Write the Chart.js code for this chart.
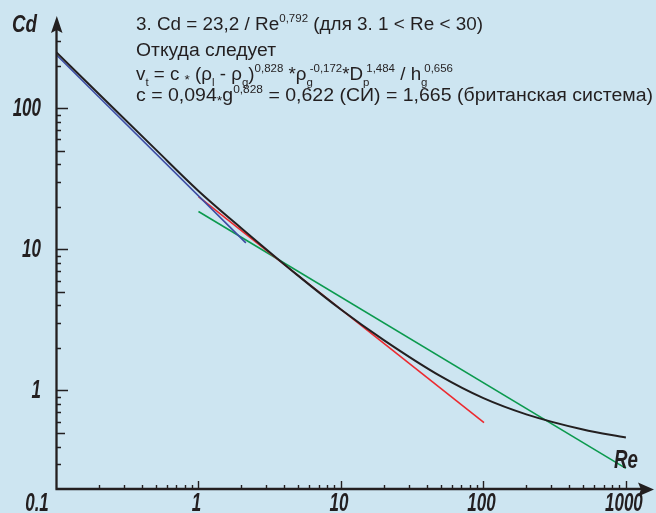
<!DOCTYPE html>
<html>
<head>
<meta charset="utf-8">
<script src="https://cdn.jsdelivr.net/npm/chart.js@4.4.1/dist/chart.umd.min.js"></script>
<style>
  html, body { margin: 0; padding: 0; background: #cde5f1; }
  canvas { display: block; }
</style>
</head>
<body>
<canvas id="dragChart" width="656" height="513"></canvas>
<script>
// drag curve (Re, Cd)
const reBlack = [0.1, 0.2, 0.5, 1, 2, 5, 10, 20, 50, 100, 200, 500, 1000];
const cdBlack = [250, 126, 51, 25.9, 14.1, 6.5, 3.74, 2.27, 1.26, 0.88, 0.676, 0.528, 0.463];
// Stokes line
const reBlue = [0.1, 2.15];
const cdBlue = [240, 11.1];
// Cd = 23,2 / Re^0,792
const reRed = [1, 101];
const cdRed = [23.6, 0.59];
// intermediate law
const reGreen = [1, 1000];
const cdGreen = [18.5, 0.28];

const xTickLabels = ['0.1', '1', '10', '100', '1000'];
const yTickLabels = ['1', '10', '100'];
const xAxisTitle = 'Re';
const yAxisTitle = 'Cd';

// text block: [text, kind]; 'subsup' = sub and sup stacked at the same x
const noteLines = [
  [['3. Cd = 23,2 / Re', ''], ['0,792', 'sup'], [' (для 3. 1 < Re < 30)', '']],
  [['Откуда следует', '']],
  [['v', ''], ['t', 'sub'], [' = c ', ''], ['*', 'star'], [' (ρ', ''], ['l', 'sub'], [' - ρ', ''], ['g', 'sub'], [')', ''],
   ['0,828', 'sup'], [' *ρ', ''], [['g', ' -0,172'], 'subsup'], ['*D', ''], [['p', ' 1,484'], 'subsup'],
   [' / h', ''], [['g', ' 0,656'], 'subsup']],
  [['c = 0,094', ''], ['*', 'star'], ['g', ''], ['0,828', 'sup'], [' = 0,622 (СИ) = 1,665 (британская система)', '']]
];
const noteLeft = 136;
const noteRight = [483, 276, 453, 653];
const noteBase = [30, 56, 80, 101];

function toPoints(xs, ys) {
  return xs.map((x, i) => ({x: x, y: ys[i]}));
}

const INK = '#231f20';
const FONT = '"Liberation Sans", Arial, sans-serif';

// draws one rich line, returns its width
function drawRich(ctx, x0, y, parts, size, dry) {
  let x = x0;
  const put = (t, f, dy) => {
    ctx.font = f + 'px ' + FONT;
    if (!dry) ctx.fillText(t, x, y + dy);
    return ctx.measureText(t).width;
  };
  for (const [t, kind] of parts) {
    if (kind === 'sup') x += put(t, 11, -8);
    else if (kind === 'sub') x += put(t, 11, 6);
    else if (kind === 'star') x += put(t, 13, 4);
    else if (kind === 'subsup') {
      const w1 = put(t[0], 11, 6);
      const w2 = put(t[1], 11, -8);
      x += Math.max(w1, w2);
    } else x += put(t, size, 0);
  }
  return x - x0;
}

function boldLabel(ctx, text, x, y, size, sx, align) {
  ctx.save();
  ctx.font = 'italic bold ' + size + 'px ' + FONT;
  const w = ctx.measureText(text).width * sx;
  let left = x;
  if (align === 'center') left = x - w / 2;
  if (align === 'right') left = x - w;
  ctx.translate(left, y);
  ctx.scale(sx, 1);
  ctx.textAlign = 'left';
  ctx.fillText(text, 0, 0);
  ctx.restore();
}

const axesPlugin = {
  id: 'axesPlugin',
  afterDatasetsDraw(chart) {
    const {ctx, chartArea: a, scales: {x, y}} = chart;
    ctx.save();
    ctx.strokeStyle = INK;
    ctx.fillStyle = INK;
    ctx.lineCap = 'butt';

    // axis lines
    ctx.lineWidth = 2.3;
    ctx.beginPath();
    ctx.moveTo(a.left + 0.5, a.bottom);
    ctx.lineTo(a.left + 0.5, a.top + 14);
    ctx.moveTo(a.left - 0.6, a.bottom);
    ctx.lineTo(a.right - 10, a.bottom);
    ctx.stroke();

    // arrow heads
    ctx.beginPath();
    ctx.moveTo(a.left + 0.8, a.top + 1);
    ctx.lineTo(a.left + 6.5, a.top + 18);
    ctx.lineTo(a.left + 0.8, a.top + 15);
    ctx.lineTo(a.left - 5, a.top + 18);
    ctx.closePath();
    ctx.fill();
    ctx.beginPath();
    ctx.moveTo(a.right + 1, a.bottom + 0.5);
    ctx.lineTo(a.right - 15, a.bottom - 6.5);
    ctx.lineTo(a.right - 12, a.bottom + 0.5);
    ctx.lineTo(a.right - 15, a.bottom + 7.5);
    ctx.closePath();
    ctx.fill();

    // y ticks
    ctx.lineWidth = 1.4;
    ctx.beginPath();
    [0.1, 1, 10, 100].forEach(d => {
      for (let m = 1; m <= 9; m++) {
        const v = m * d;
        if (v <= 0.2 || v > 350) continue;
        const py = Math.round(y.getPixelForValue(v)) + 0.5;
        const len = m === 1 ? 12 : (m === 5 ? 9 : 5);
        ctx.moveTo(a.left, py);
        ctx.lineTo(a.left + len, py);
      }
    });
    // x ticks
    [0.1, 1, 10, 100, 1000].forEach(d => {
      for (let m = 1; m <= 9; m++) {
        const v = m * d;
        if (v <= 0.1 || v > 1000) continue;
        const px = Math.round(x.getPixelForValue(v)) + 0.5;
        const len = m === 1 ? 8 : 4;
        ctx.moveTo(px, a.bottom);
        ctx.lineTo(px, a.bottom - len);
      }
    });
    ctx.stroke();

    // tick labels
    ctx.textBaseline = 'alphabetic';
    xTickLabels.forEach(t => {
      const px = x.getPixelForValue(parseFloat(t));
      const cx = t === '0.1' ? px - 19 : px - 2;
      boldLabel(ctx, t, cx, a.bottom + 22, 25, 0.68, 'center');
    });
    yTickLabels.forEach(t => {
      const py = y.getPixelForValue(parseFloat(t));
      boldLabel(ctx, t, 41, py + 8, 25, 0.68, 'right');
    });
    boldLabel(ctx, yAxisTitle, 12, 32, 24, 0.78, 'left');
    boldLabel(ctx, xAxisTitle, 614, 468, 26, 0.72, 'left');

    // note text, each line stretched to the width it has in the picture
    noteLines.forEach((parts, i) => {
      const w = drawRich(ctx, 0, 0, parts, 18, true);
      const sx = (noteRight[i] - noteLeft) / w;
      ctx.save();
      ctx.translate(noteLeft, noteBase[i]);
      ctx.scale(sx, 1);
      drawRich(ctx, 0, 0, parts, 18, false);
      ctx.restore();
    });
    ctx.restore();
  }
};

new Chart(document.getElementById('dragChart'), {
  type: 'scatter',
  data: {
    datasets: [
      { data: toPoints(reBlack, cdBlack), borderColor: INK, borderWidth: 2, cubicInterpolationMode: 'monotone' },
      { data: toPoints(reBlue, cdBlue), borderColor: '#3b4ba3', borderWidth: 1.6 },
      { data: toPoints(reRed, cdRed), borderColor: '#ec2a2f', borderWidth: 1.6 },
      { data: toPoints(reGreen, cdGreen), borderColor: '#0b9a4e', borderWidth: 1.6 }
    ]
  },
  options: {
    responsive: false,
    animation: false,
    devicePixelRatio: 1,
    showLine: true,
    elements: { point: { radius: 0 } },
    layout: { padding: { left: 56, right: 3, top: 15, bottom: 24 } },
    plugins: { legend: { display: false }, tooltip: { enabled: false } },
    scales: {
      x: { type: 'logarithmic', min: 0.1, max: 1550, display: false },
      y: { type: 'logarithmic', min: 0.2, max: 457, display: false }
    }
  },
  plugins: [axesPlugin]
});
</script>
</body>
</html>
